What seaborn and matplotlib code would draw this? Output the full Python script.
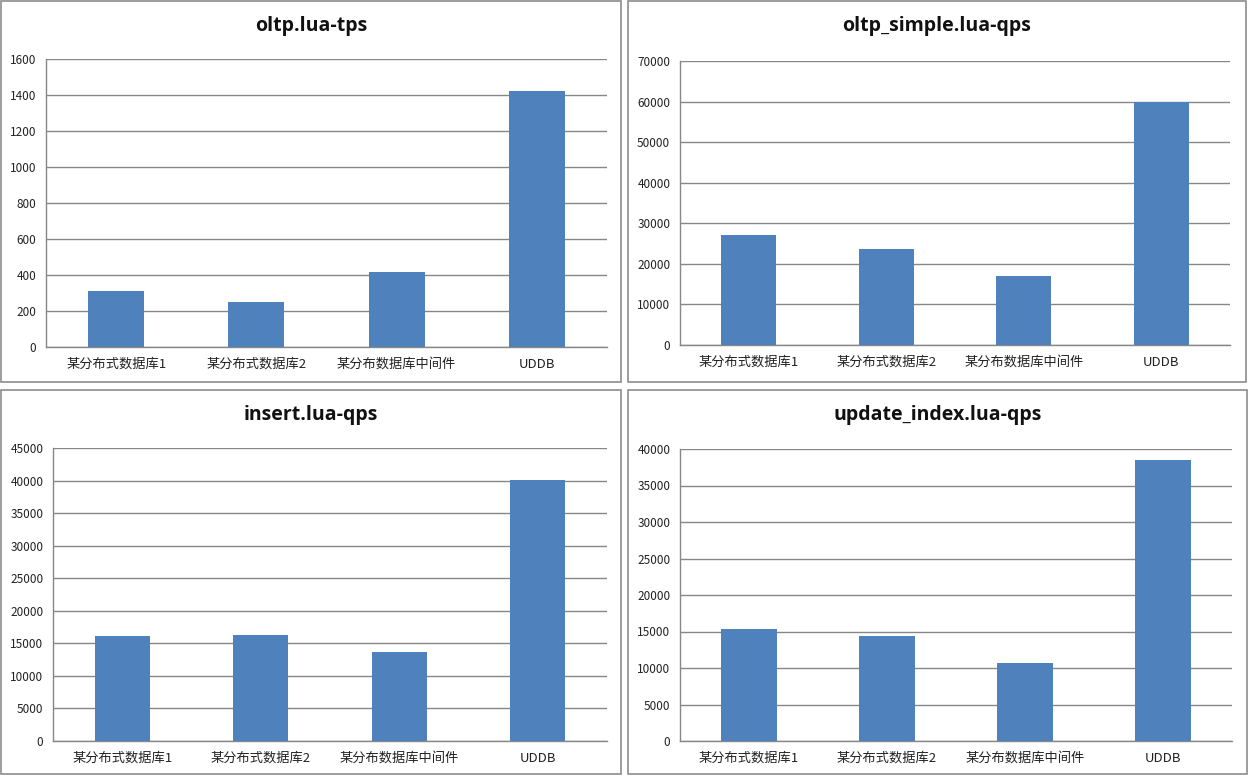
import matplotlib
matplotlib.use("Agg")
import matplotlib.pyplot as plt
from matplotlib.patches import Rectangle
from matplotlib.ticker import MultipleLocator
import seaborn as sns

sns.set_style("white")
plt.rcParams["font.family"] = ["Noto Sans CJK SC", "DejaVu Sans"]

categories = ["某分布式数据库1", "某分布式数据库2", "某分布数据库中间件", "UDDB"]

oltp_tps = [312, 251, 417, 1419]
oltp_simple_qps = [27200, 23700, 17100, 59900]
insert_qps = [16150, 16300, 13700, 40050]
update_index_qps = [15300, 14350, 10750, 38450]

titles = ["oltp.lua-tps", "oltp_simple.lua-qps", "insert.lua-qps", "update_index.lua-qps"]
series = [oltp_tps, oltp_simple_qps, insert_qps, update_index_qps]
ymax = [1600, 70000, 45000, 40000]
ystep = [200, 10000, 5000, 5000]

W, H = 1250, 781
# pixel boxes: panel border (x0, y0, x1, y1), axes area (x0, y0, x1, y1)
panels = [(1, 1, 621, 382), (628, 1, 1246, 382), (1, 390, 621, 774), (628, 390, 1247, 774)]
axboxes = [(46, 58.7, 607, 347), (680, 61, 1230, 345), (53, 448, 607, 741), (680, 449, 1232, 741)]

bar_color = "#4F81BD"
grid_color = "#878787"

fig = plt.figure(figsize=(W / 100, H / 100), dpi=100)

for i in range(4):
    px0, py0, px1, py1 = panels[i]
    fig.add_artist(Rectangle((px0 / W, 1 - py1 / H), (px1 - px0) / W, (py1 - py0) / H,
                             transform=fig.transFigure, fill=False, edgecolor="#8c8c8c", lw=1.2))

    x0, y0, x1, y1 = axboxes[i]
    ax = fig.add_axes([x0 / W, 1 - y1 / H, (x1 - x0) / W, (y1 - y0) / H])
    sns.barplot(x=categories, y=series[i], color=bar_color, saturation=1, width=0.4, ax=ax,
                linewidth=0, edgecolor=bar_color, zorder=3)

    ax.set_ylim(0, ymax[i])
    ax.yaxis.set_major_locator(MultipleLocator(ystep[i]))
    ax.set_xlim(-0.5, 3.5)
    ax.yaxis.grid(True, color=grid_color, lw=1)
    ax.set_axisbelow(True)
    for s in ["top", "right"]:
        ax.spines[s].set_visible(False)
    for s in ["left", "bottom"]:
        ax.spines[s].set_color(grid_color)
        ax.spines[s].set_linewidth(1)

    # x ticks at category boundaries, labels centered
    ax.set_xticks([-0.5, 0.5, 1.5, 2.5, 3.5])
    ax.set_xticklabels([])
    ax.set_xticks([0, 1, 2, 3], minor=True)
    ax.set_xticklabels(categories, minor=True, fontsize=9.5, color="#222222")
    ax.tick_params(axis="x", which="major", length=5, color=grid_color, direction="out")
    ax.tick_params(axis="x", which="minor", length=0, pad=8)
    ax.tick_params(axis="y", length=5, color=grid_color, direction="out", labelsize=8.5,
                   labelcolor="#222222", pad=2)
    ax.set_xlabel("")
    ax.set_ylabel("")

    cx = (px0 + px1) / 2
    ty = py0 + 25
    fig.text(cx / W, 1 - ty / H, titles[i], ha="center", va="center", fontsize=14,
             fontweight="bold", family=["Open Sans", "DejaVu Sans"], color="#111111")

fig.savefig("out.png", dpi=100, facecolor="white")
